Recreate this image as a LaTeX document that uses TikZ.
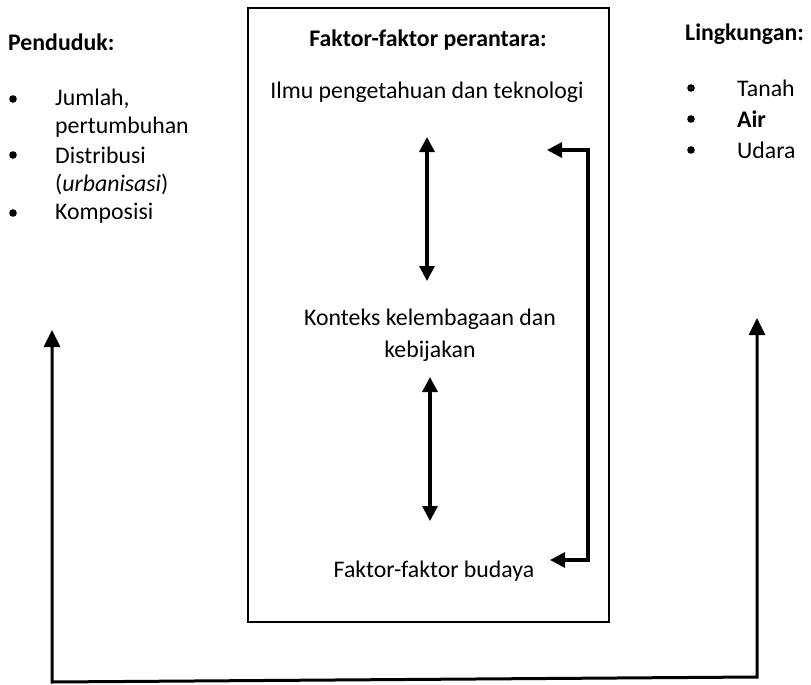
\documentclass[tikz,border=0pt]{standalone}
\usepackage{fontspec}
\setmainfont{Carlito}
\usetikzlibrary{arrows.meta}
\begin{document}
\begin{tikzpicture}[x=1pt,y=-1pt,
  txt/.style={font=\fontsize{23.8}{28}\selectfont, inner sep=0pt},
  head/.style={font=\bfseries\fontsize{23.8}{28}\selectfont, inner sep=0pt},
  dbl/.style={line width=3.2pt, {Triangle[width=15pt,length=15pt]}-{Triangle[width=15pt,length=15pt]}},
  frame/.style={draw, line width=1.3pt}]
\useasboundingbox (0,0) rectangle (811,685);
% central box
\draw[frame] (248,8) rectangle (609,622);
\node[head] (fp) at (428,40) {Faktor-faktor perantara:};
\node[txt] (ilmu) at (427,92) {Ilmu pengetahuan dan teknologi};
\node[txt, align=center] (kon) at (430,335) {Konteks kelembagaan dan\\[4pt]kebijakan};
\node[txt] (bud) at (434,571) {Faktor-faktor budaya};
\coordinate (a1) at (427,137);
\coordinate (a2) at (427,281);
\coordinate (b1) at (430,377);
\coordinate (b2) at (430,521);
\draw[dbl] (a1) -- (a2);
\draw[dbl] (b1) -- (b2);
\coordinate (r1) at (547,150);
\coordinate (r2) at (588,150);
\coordinate (r3) at (588,560);
\coordinate (r4) at (550,560);
\draw[line width=3.2pt, {Triangle[width=15pt,length=15pt]}-{Triangle[width=15pt,length=15pt]}, line join=miter] (r1) -- (r2) -- (r3) -- (r4);
% left column
\node[head, anchor=west] (pen) at (8,42) {Penduduk:};
\foreach \y in {99,155,213} \fill (13,\y) circle (3.8pt);
\node[txt, anchor=west] (p1) at (55,99) {Jumlah,};
\node[txt, anchor=west] (p2) at (55,127) {pertumbuhan};
\node[txt, anchor=west] (p3) at (55,155) {Distribusi};
\node[txt, anchor=west] (p4) at (55,184) {(\textit{urbanisasi})};
\node[txt, anchor=west] (p5) at (55,213) {Komposisi};
% right column
\node[head, anchor=west] (lin) at (685,34) {Lingkungan:};
\foreach \y in {88,119,150} \fill (691,\y) circle (3.8pt);
\node[txt, anchor=west] (l1) at (737,88) {Tanah};
\node[head, anchor=west] (l2) at (737,119) {Air};
\node[txt, anchor=west] (l3) at (737,150) {Udara};
% outer loop
\coordinate (o1) at (52,330);
\coordinate (o2) at (52,682);
\coordinate (o3) at (757,677);
\coordinate (o4) at (757,318);
\draw[line width=3pt, {Triangle[width=16pt,length=17pt]}-{Triangle[width=16pt,length=17pt]}, line join=miter] (o1) -- (o2) -- (o3) -- (o4);
\end{tikzpicture}
\end{document}
